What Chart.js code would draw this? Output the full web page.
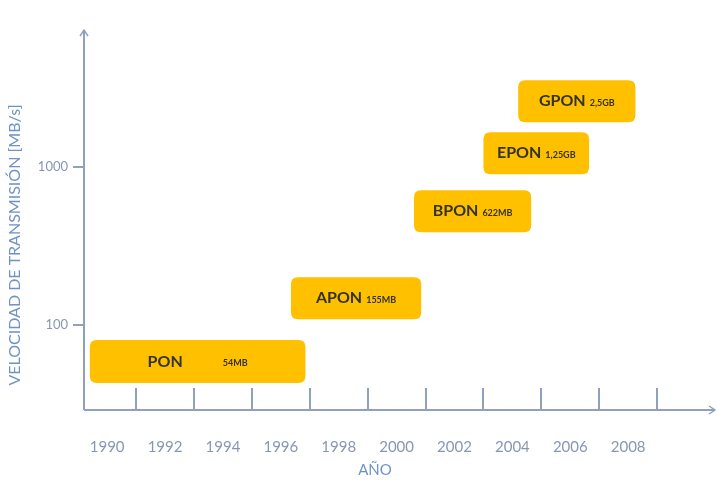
<!DOCTYPE html>
<html lang="es">
<head>
    <meta charset="UTF-8">
    <title>Evolución PON</title>
    <script src="https://cdn.jsdelivr.net/npm/chart.js"></script>
    <style>
        body { margin: 0; background: #ffffff; }
        #wrap { width: 717px; height: 480px; }
    </style>
</head>
<body>
    <div id="wrap"><canvas id="pon" width="717" height="480"></canvas></div>
    <script>
        // datos
        const tecnologias = ['PON', 'APON', 'BPON', 'EPON', 'GPON'];
        const velocidades = ['54MB', '155MB', '622MB', '1,25GB', '2,5GB'];
        const anioInicio = [1989.4, 1996.35, 2000.6, 2003.0, 2004.2];
        const anioFin = [1996.85, 2000.85, 2004.65, 2006.65, 2008.25];
        const velMin = [43, 109, 388, 903, 1926];
        const velMax = [80.4, 201, 715, 1665, 3550];
        const aniosEtiqueta = [1990, 1992, 1994, 1996, 1998, 2000, 2002, 2004, 2006, 2008];
        const aniosMarca = [1991, 1993, 1995, 1997, 1999, 2001, 2003, 2005, 2007, 2009];
        const ticksVel = [100, 1000];

        const ejeColor = '#8fa1bc';
        const textoEje = '#8797b2';
        const tituloColor = '#6f93c6';
        const cajaColor = '#ffc000';
        const huecoTexto = [40, 4, 4, 4, 4]; // espacio entre nombre y velocidad

        function roundRect(ctx, x, y, w, h, r) {
            ctx.beginPath();
            ctx.moveTo(x + r, y);
            ctx.lineTo(x + w - r, y);
            ctx.quadraticCurveTo(x + w, y, x + w, y + r);
            ctx.lineTo(x + w, y + h - r);
            ctx.quadraticCurveTo(x + w, y + h, x + w - r, y + h);
            ctx.lineTo(x + r, y + h);
            ctx.quadraticCurveTo(x, y + h, x, y + h - r);
            ctx.lineTo(x, y + r);
            ctx.quadraticCurveTo(x, y, x + r, y);
            ctx.closePath();
        }

        const cajasPlugin = {
            id: 'cajas',
            beforeDatasetsDraw(chart) {
                const ctx = chart.ctx;
                const xs = chart.scales.x, ys = chart.scales.y;
                const area = chart.chartArea;
                ctx.save();
                // ejes con flechas
                ctx.strokeStyle = ejeColor;
                ctx.lineWidth = 2;
                ctx.beginPath();
                ctx.moveTo(area.left, area.bottom);
                ctx.lineTo(area.left, area.top);
                ctx.moveTo(area.left, area.bottom);
                ctx.lineTo(area.right, area.bottom);
                ctx.stroke();
                ctx.lineWidth = 1.5;
                ctx.beginPath();
                ctx.moveTo(area.left - 4, area.top + 6);
                ctx.lineTo(area.left, area.top);
                ctx.lineTo(area.left + 4, area.top + 6);
                ctx.moveTo(area.right - 6, area.bottom - 4);
                ctx.lineTo(area.right, area.bottom);
                ctx.lineTo(area.right - 6, area.bottom + 4);
                ctx.stroke();
                // marcas verticales
                ctx.lineWidth = 2;
                ctx.beginPath();
                aniosMarca.forEach(a => {
                    const px = Math.round(xs.getPixelForValue(a));
                    ctx.moveTo(px, area.bottom);
                    ctx.lineTo(px, area.bottom - 22);
                });
                ctx.stroke();
                // titulos de ejes
                ctx.fillStyle = tituloColor;
                ctx.font = '15px Lato, sans-serif';
                ctx.textAlign = 'center';
                ctx.textBaseline = 'middle';
                ctx.fillText('AÑO', 375, 470);
                ctx.save();
                ctx.translate(15, 245);
                ctx.rotate(-Math.PI / 2);
                ctx.font = '16px Lato, sans-serif';
                ctx.fillText('VELOCIDAD DE TRANSMISIÓN [MB/s]', 0, 0);
                ctx.restore();
                // cajas
                tecnologias.forEach((t, i) => {
                    const x0 = xs.getPixelForValue(anioInicio[i]);
                    const x1 = xs.getPixelForValue(anioFin[i]);
                    const y0 = ys.getPixelForValue(velMax[i]);
                    const y1 = ys.getPixelForValue(velMin[i]);
                    ctx.fillStyle = cajaColor;
                    roundRect(ctx, x0, y0, x1 - x0, y1 - y0, 7);
                    ctx.fill();
                    ctx.fillStyle = '#33332a';
                    ctx.textBaseline = 'middle';
                    ctx.textAlign = 'left';
                    ctx.font = 'bold 16px Lato, sans-serif';
                    const w1 = ctx.measureText(t).width;
                    ctx.font = 'bold 9px Lato, sans-serif';
                    const w2 = ctx.measureText(velocidades[i]).width;
                    const total = w1 + huecoTexto[i] + w2;
                    const cx = (x0 + x1) / 2, cy = (y0 + y1) / 2;
                    let sx = cx - total / 2;
                    ctx.font = 'bold 16px Lato, sans-serif';
                    ctx.fillText(t, sx, cy);
                    ctx.font = 'bold 9px Lato, sans-serif';
                    ctx.fillText(velocidades[i], sx + w1 + huecoTexto[i], cy + 2);
                });
                ctx.restore();
            }
        };

        new Chart(document.getElementById('pon').getContext('2d'), {
            type: 'scatter',
            data: { datasets: [] },
            options: {
                responsive: false,
                animation: false,
                layout: { padding: { top: 30, right: 2, left: 0, bottom: 0 } },
                plugins: { legend: { display: false }, tooltip: { enabled: false } },
                scales: {
                    x: {
                        type: 'linear',
                        min: 1989.2,
                        max: 2011,
                        afterBuildTicks: s => { s.ticks = aniosEtiqueta.map(v => ({ value: v })); },
                        afterFit: s => { s.height = 70; },
                        ticks: {
                            color: textoEje,
                            font: { family: 'Lato', size: 15 },
                            padding: 20,
                            maxRotation: 0,
                            autoSkip: false,
                            callback: v => String(v)
                        },
                        grid: { display: false },
                        border: { display: false }
                    },
                    y: {
                        type: 'logarithmic',
                        min: 29,
                        max: 7400,
                        afterBuildTicks: s => { s.ticks = ticksVel.map(v => ({ value: v })); },
                        afterFit: s => { s.width = 84; },
                        ticks: {
                            color: textoEje,
                            font: { family: 'Lato', size: 13 },
                            padding: 5,
                            callback: v => String(v)
                        },
                        grid: {
                            drawOnChartArea: false,
                            color: ejeColor,
                            lineWidth: 2,
                            tickLength: 11
                        },
                        border: { display: false }
                    }
                }
            },
            plugins: [cajasPlugin]
        });
    </script>
</body>
</html>
